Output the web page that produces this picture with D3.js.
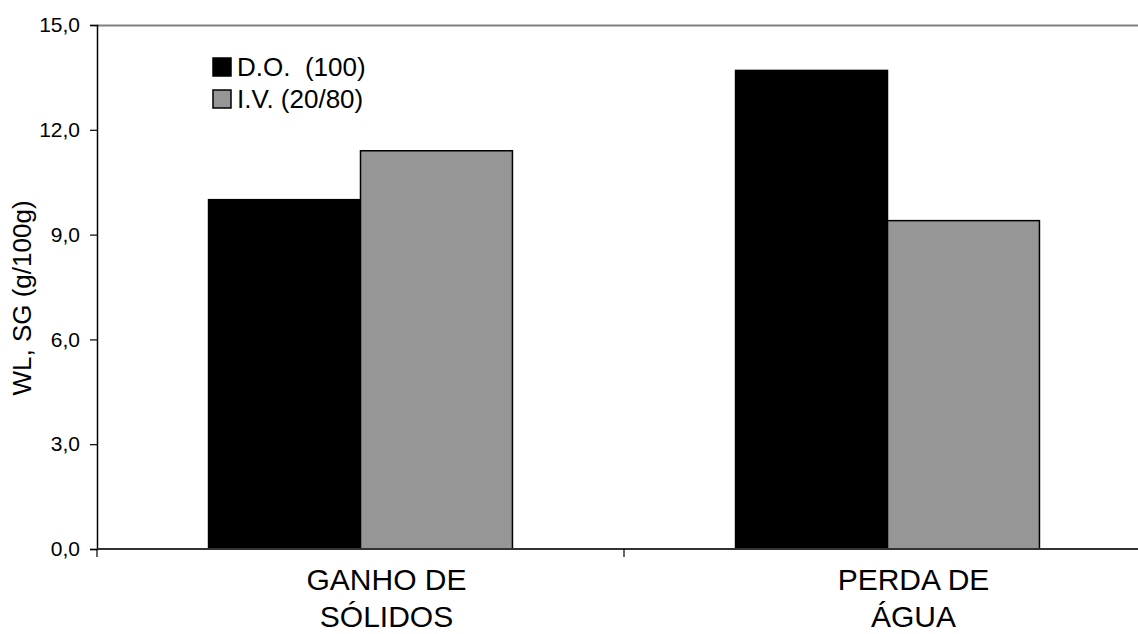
<!DOCTYPE html>
<html>
<head>
<meta charset="utf-8">
<script src="https://cdn.jsdelivr.net/npm/d3@7"></script>
<style>
  html, body { margin: 0; padding: 0; background: #fff; overflow: hidden; }
  text { font-family: "Liberation Sans", Arial, sans-serif; fill: #000; }
</style>
</head>
<body>
<svg id="chart" width="1138" height="634"></svg>
<script>
const categories = [["GANHO DE", "SÓLIDOS"], ["PERDA DE", "ÁGUA"]];
const categoryKeys = ["ganho", "perda"];
const seriesNames = ["D.O.  (100)", "I.V. (20/80)"];
const doValues = [10.0, 13.7];
const ivValues = [11.4, 9.4];
const yTicks = [0, 3, 6, 9, 12, 15];
const yTitle = "WL, SG (g/100g)";
const colors = ["#000000", "#969696"];

(function () {
const svg = d3.select("#chart");
const pLeft = 97, pRight = 1151, pTop = 25, pBottom = 549;

const y = d3.scaleLinear().domain([0, 15]).range([pBottom, pTop]);
const x0 = d3.scaleBand().domain(categoryKeys).range([pLeft, pRight]).padding(0);
const x1 = d3.scaleBand().domain([0, 1]).range([0, x0.bandwidth()]).paddingInner(0).paddingOuter(0.734);

// top border
svg.append("line").attr("x1", pLeft).attr("x2", pRight).attr("y1", pTop + 0.5).attr("y2", pTop + 0.5)
  .attr("stroke", "#808080").attr("stroke-width", 2);

// bars
const series = [doValues, ivValues];
categoryKeys.forEach((k, ci) => {
  series.forEach((vals, si) => {
    svg.append("rect")
      .attr("x", x0(k) + x1(si))
      .attr("y", y(vals[ci]))
      .attr("width", x1.bandwidth())
      .attr("height", y(0) - y(vals[ci]))
      .attr("fill", colors[si])
      .attr("stroke", "#000")
      .attr("stroke-width", 1.5);
  });
});

// y axis
const yAxis = d3.axisLeft(y).tickValues(yTicks).tickSize(7).tickPadding(10)
  .tickFormat(d => d3.format(".1f")(d).replace(".", ","));
const gy = svg.append("g").attr("transform", `translate(${pLeft},0)`).call(yAxis);
gy.select(".domain").attr("stroke", "#000").attr("stroke-width", 1.5);
gy.selectAll(".tick line").attr("stroke", "#000").attr("stroke-width", 1.2);
gy.selectAll(".tick text").attr("font-size", 21).attr("fill", "#000")
  .style("font-family", '"Liberation Sans", Arial, sans-serif');

// x axis line & ticks
svg.append("line").attr("x1", pLeft).attr("x2", pRight).attr("y1", pBottom).attr("y2", pBottom)
  .attr("stroke", "#333").attr("stroke-width", 2);
const tickXs = [pLeft, x0(categoryKeys[1]), pRight];
tickXs.forEach(tx => {
  svg.append("line").attr("x1", tx).attr("x2", tx).attr("y1", pBottom).attr("y2", pBottom + 8)
    .attr("stroke", "#000").attr("stroke-width", 1.2);
});

// x labels
categoryKeys.forEach((k, ci) => {
  const cx = x0(k) + x0.bandwidth() / 2 + 26;
  const t = svg.append("text").attr("text-anchor", "middle").attr("font-size", 30);
  categories[ci].forEach((line, li) => {
    t.append("tspan").attr("x", cx).attr("y", 590 + li * 37).text(line);
  });
});

// y title
svg.append("text")
  .attr("transform", `translate(31,298) rotate(-90)`)
  .attr("text-anchor", "middle")
  .attr("font-size", 26)
  .text(yTitle);

// legend
seriesNames.forEach((name, i) => {
  const ly = 58 + i * 32;
  svg.append("rect").attr("x", 213).attr("y", ly).attr("width", 18).attr("height", 18)
    .attr("fill", colors[i]).attr("stroke", "#000").attr("stroke-width", 1.5);
  svg.append("text").attr("x", 237).attr("y", ly + 18).attr("font-size", 26)
    .attr("xml:space", "preserve").style("white-space", "pre").text(name);
});
})();
</script>
</body>
</html>
